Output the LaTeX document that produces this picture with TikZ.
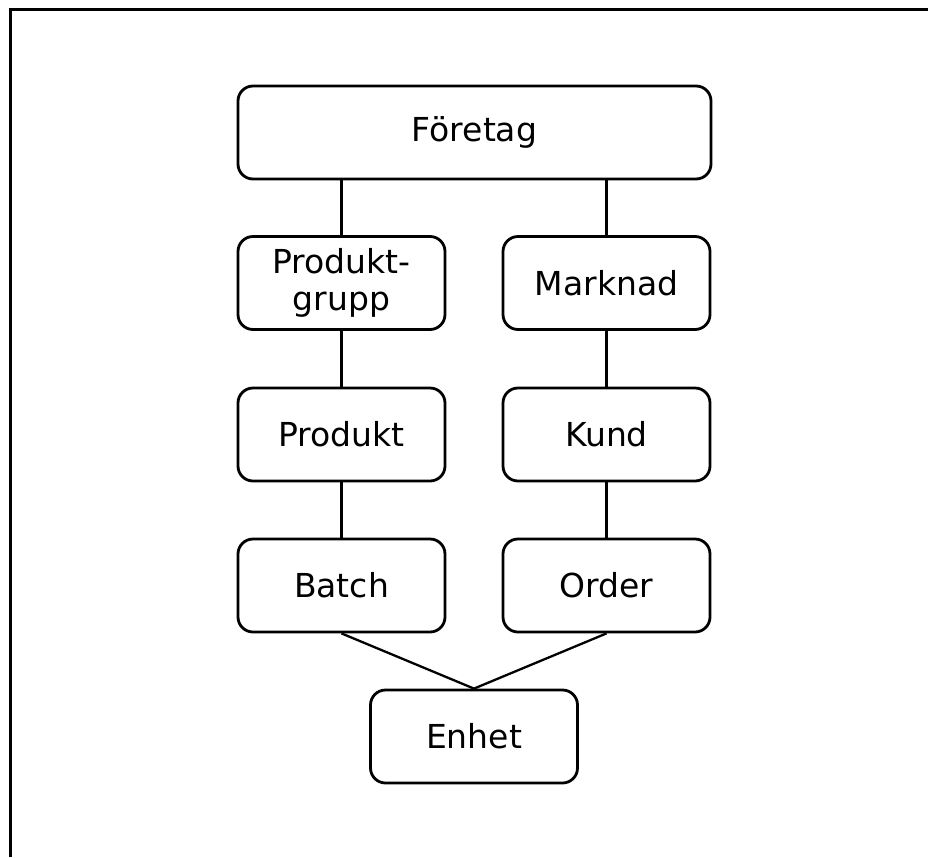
\documentclass[tikz,border=0pt]{standalone}
\usepackage{fontspec}
\setmainfont{DejaVu Sans}
\begin{document}
\begin{tikzpicture}[x=1pt,y=-1pt,
  box/.style={draw, line width=2.8pt, rounded corners=15pt, minimum height=93pt,
    align=center, font=\fontsize{33}{37}\selectfont, inner sep=0pt},
  wide/.style={box, minimum width=473pt},
  half/.style={box, minimum width=207pt},
  link/.style={line width=2.3pt}]
\useasboundingbox (0,0) rectangle (928,857);
% outer frame (top and left sides)
\draw[line width=3.3pt] (10.5,857) -- (10.5,9.5) -- (928,9.5);

\node[wide] (firm) at (474.5,132.5) {Företag};
\node[half] (pgrp) at (341.5,283) {Produkt-\\grupp};
\node[half] (mkt)  at (606.5,283) {Marknad};
\node[half] (prod) at (341.5,434.5) {Produkt};
\node[half] (cust) at (606.5,434.5) {Kund};
\node[half] (bat)  at (341.5,585.5) {Batch};
\node[half] (ord)  at (606.5,585.5) {Order};
\node[half] (unit) at (474,736.5) {Enhet};

\draw[link] (firm.south -| pgrp.north) -- (pgrp.north);
\draw[link] (firm.south -| mkt.north) -- (mkt.north);
\draw[link] (pgrp) -- (prod);
\draw[link] (mkt) -- (cust);
\draw[link] (prod) -- (bat);
\draw[link] (cust) -- (ord);
\draw[link] (bat.south) -- (unit.north);
\draw[link] (ord.south) -- (unit.north);
\end{tikzpicture}
\end{document}
